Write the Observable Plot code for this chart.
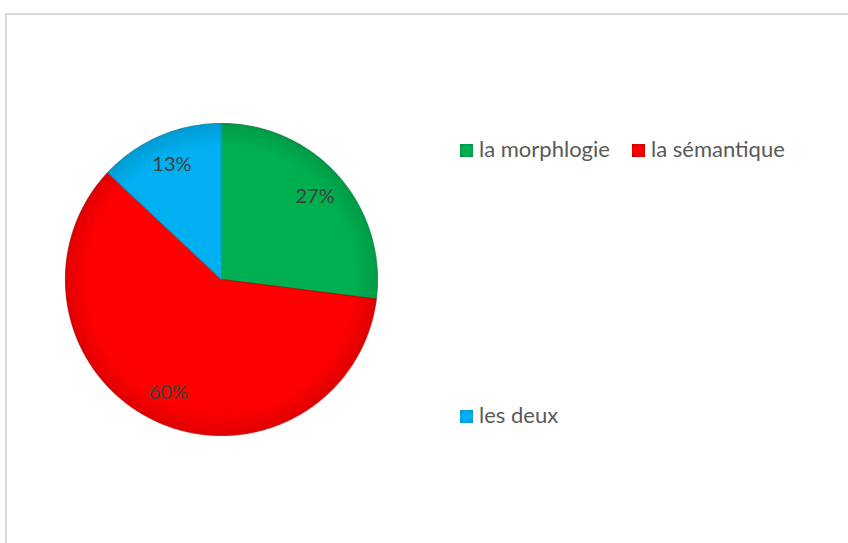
<!DOCTYPE html>
<html><head><meta charset="utf-8">
<script src="https://cdn.jsdelivr.net/npm/d3@7"></script>
<script src="https://cdn.jsdelivr.net/npm/@observablehq/plot@0.6"></script>
<style>
html,body{margin:0;padding:0;background:#fff;}
#wrap{position:relative;width:848px;height:543px;overflow:hidden;font-family:Lato,"Open Sans",sans-serif;}
#frame{position:absolute;left:5px;top:13px;width:900px;height:600px;border-left:2px solid #d9d9d9;border-top:2px solid #d9d9d9;box-sizing:border-box;}
#chart{position:absolute;left:0;top:0;}
.leg{position:absolute;font-size:22px;color:#595959;white-space:nowrap;line-height:1;}
.sw{position:absolute;width:13px;height:13px;}
</style></head>
<body><div id="wrap"><div id="frame"></div><div id="chart"></div></div>
<script>
const categories = ["la morphlogie", "la sémantique", "les deux"];
const values = [27, 60, 13];
const labels = ["27%", "60%", "13%"];
const colors = ["#00B050", "#FF0000", "#00B0F0"];
const strokes = ["#05843e", "#c00000", "#0891c0"];

const data = categories.map((c, i) => ({category: c, value: values[i], label: labels[i]}));
const arcs = d3.pie().value(d => d.value).sort(null)(data);

// polygon points for each slice (unit circle, angle clockwise from top)
const pts = [];
arcs.forEach(a => {
  const n = Math.max(2, Math.ceil((a.endAngle - a.startAngle) / 0.01));
  pts.push({category: a.data.category, x: 0, y: 0});
  for (let k = 0; k <= n; k++) {
    const t = a.startAngle + (a.endAngle - a.startAngle) * k / n;
    pts.push({category: a.data.category, x: Math.sin(t), y: Math.cos(t)});
  }
  pts.push({category: a.data.category, x: 0, y: 0});
});
const labelPts = arcs.map(a => {
  const m = (a.startAngle + a.endAngle) / 2;
  return {label: a.data.label, x: 0.8 * Math.sin(m), y: 0.8 * Math.cos(m)};
});

const chart = Plot.plot({
  width: 848, height: 543,
  margin: 0,
  x: {domain: [-1, 1], range: [65, 377], axis: null},
  y: {domain: [-1, 1], range: [435, 123], axis: null},
  color: {domain: categories, range: colors},
  style: {background: "transparent", overflow: "visible"},
  marks: [
    Plot.line(pts, {x: "x", y: "y", z: "category", fill: "category",
      stroke: d => strokes[categories.indexOf(d.category)], strokeWidth: 1.2, strokeOpacity: 0.7, curve: "linear"}),
    Plot.text(labelPts, {x: "x", y: "y", text: "label", fill: "#404040", fontSize: 20,
      fontFamily: "Lato, 'Open Sans', sans-serif"})
  ]
});
document.getElementById("chart").appendChild(chart);

// subtle radial shading over the pie
const svg = d3.select(chart);
const defs = svg.insert("defs", ":first-child");
const g = defs.append("radialGradient").attr("id", "shade").attr("gradientUnits", "userSpaceOnUse")
  .attr("cx", 221).attr("cy", 279).attr("r", 156);
g.append("stop").attr("offset", "0.85").attr("stop-color", "#000").attr("stop-opacity", 0);
g.append("stop").attr("offset", "1").attr("stop-color", "#000").attr("stop-opacity", 0.12);
svg.select("g[aria-label='line']").selectAll("path").each(function() {
  const p = d3.select(this);
  svg.insert("path", "g[aria-label='text']").attr("d", p.attr("d")).attr("fill", "url(#shade)").attr("stroke", "none");
});

// legend
const legPos = [[460, 144], [632, 144], [460, 410]];
const wrap = document.getElementById("wrap");
categories.forEach((c, i) => {
  const sw = document.createElement("div");
  sw.className = "sw";
  sw.style.left = legPos[i][0] + "px"; sw.style.top = legPos[i][1] + "px";
  sw.style.background = `radial-gradient(circle, ${colors[i]} 45%, ${strokes[i]} 100%)`;
  wrap.appendChild(sw);
  const t = document.createElement("div");
  t.className = "leg"; t.textContent = c;
  t.style.left = (legPos[i][0] + 19) + "px"; t.style.top = (legPos[i][1] - 6) + "px";
  wrap.appendChild(t);
});
</script></body></html>
